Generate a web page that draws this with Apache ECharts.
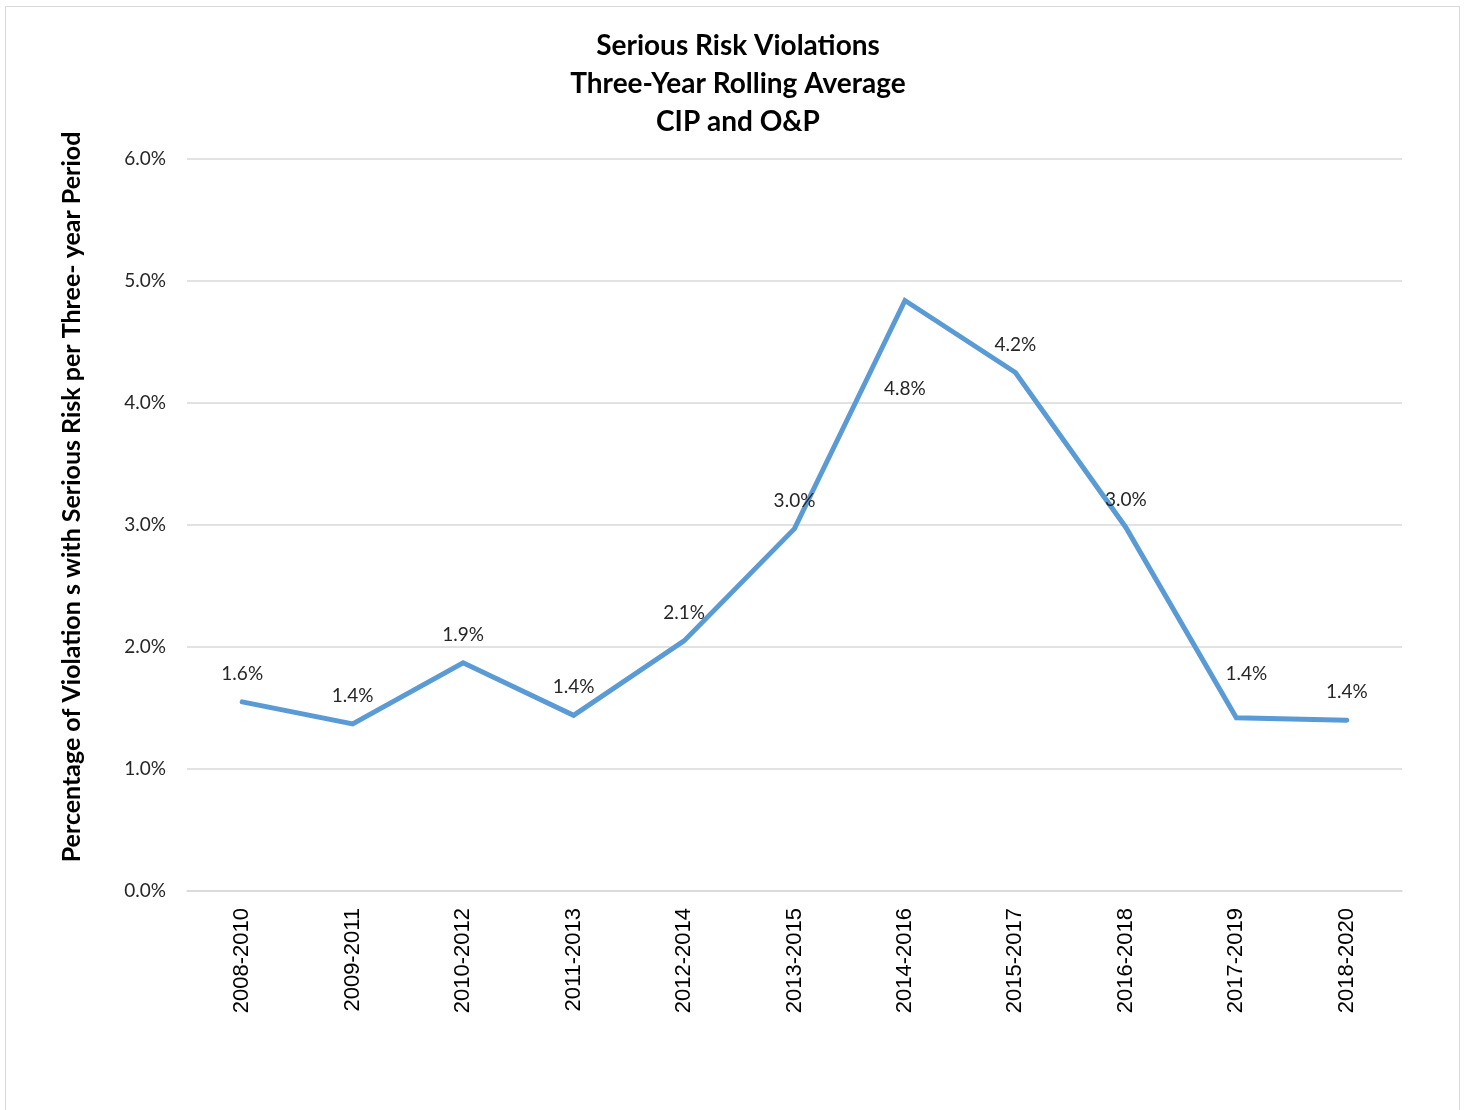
<!DOCTYPE html>
<html><head><meta charset="utf-8">
<script src="https://cdn.jsdelivr.net/npm/echarts@6/dist/echarts.min.js"></script>
<style>
html,body{margin:0;padding:0;background:#fff;}
#frame{position:absolute;left:5px;top:6px;width:1455px;height:1110px;border:1px solid #d9d9d9;box-sizing:border-box;}
#chart{position:absolute;left:0;top:0;width:1464px;height:1110px;}
</style></head>
<body>
<div id="frame"></div>
<div id="chart"></div>
<script>
const categories = ['2008-2010','2009-2011','2010-2012','2011-2013','2012-2014','2013-2015','2014-2016','2015-2017','2016-2018','2017-2019','2018-2020'];
const values = [1.55, 1.37, 1.87, 1.44, 2.05, 2.97, 4.84, 4.25, 2.98, 1.42, 1.40];
const labelTexts = ['1.6%','1.4%','1.9%','1.4%','2.1%','3.0%','4.8%','4.2%','3.0%','1.4%','1.4%'];
const yTicks = [0,1,2,3,4,5,6];
const yAxisTitle = 'Percentage of Violation s with Serious Risk per Three- year Period';

const chart = echarts.init(document.getElementById('chart'));
const labelFont = 'Lato, "Open Sans", sans-serif';
const data = values.map((v,i)=>{
  const d = {value:v};
  if (i === 6) d.label = {position:'bottom', distance:78};
  if (i === 9) d.label = {offset:[10,-16]};
  return d;
});
chart.setOption({
  animation:false,
  title:{
    text:'Serious Risk Violations\nThree-Year Rolling Average\nCIP and O&P',
    left:733, top:22, textAlign:'center',
    textStyle:{fontFamily:labelFont, fontWeight:'bold', fontSize:28, lineHeight:38, color:'#000'}
  },
  graphic:[{
    type:'text', x:72, y:497, rotation:Math.PI/2,
    style:{text:yAxisTitle, textAlign:'center', textVerticalAlign:'middle',
      font:'bold 25px Lato, "Open Sans", sans-serif', fill:'#000'}
  }],
  grid:{left:187, right:62, top:159, bottom:219, containLabel:false},
  xAxis:{
    type:'category', data:categories, boundaryGap:true,
    axisLine:{lineStyle:{color:'#d9d9d9', width:1.5}},
    axisTick:{show:false},
    axisLabel:{rotate:90, margin:17, fontFamily:'"Liberation Sans", Arial, sans-serif', fontSize:22, color:'#000'}
  },
  yAxis:{
    type:'value', min:yTicks[0], max:yTicks[yTicks.length-1], interval:1,
    axisLine:{show:false}, axisTick:{show:false},
    splitLine:{lineStyle:{color:'#d9d9d9', width:1.5}},
    axisLabel:{margin:21, fontFamily:labelFont, fontSize:19, color:'#262626', formatter:v=>v.toFixed(1)+'%'}
  },
  series:[{
    type:'line', data:data, symbol:'circle', symbolSize:1, showSymbol:true,
    itemStyle:{color:'#5b9bd5'},
    lineStyle:{color:'#5b9bd5', width:5, cap:'round', join:'miter'},
    label:{show:true, position:'top', distance:18, fontFamily:labelFont, fontSize:19, color:'#262626',
      formatter:p=>labelTexts[p.dataIndex]}
  }]
});
</script>
</body></html>
